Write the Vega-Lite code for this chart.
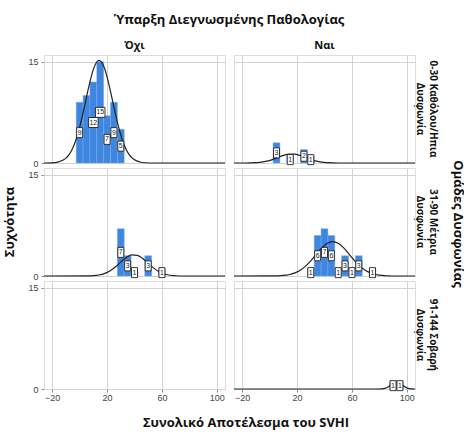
{
  "$schema": "https://vega.github.io/schema/vega-lite/v6.json",
  "background": "white",
  "padding": {"left": 3, "top": 14, "right": 0, "bottom": 2},
  "title": {"text": "Συχνότητα", "orient": "left", "anchor": "middle", "offset": 11},
  "vconcat": [{
  "title": {"text": "Συνολικό Αποτέλεσμα του SVHI", "orient": "bottom", "anchor": "middle", "offset": 15},
  "data": {"values": [
    {"t":"b","p":"Όχι","g":"0-30 Καθόλου/Ηπια Δυσφωνία","x0":-2.5,"x1":2.5,"xc":0,"n":9},
    {"t":"b","p":"Όχι","g":"0-30 Καθόλου/Ηπια Δυσφωνία","x0":2.5,"x1":7.5,"xc":5,"n":10},
    {"t":"b","p":"Όχι","g":"0-30 Καθόλου/Ηπια Δυσφωνία","x0":7.5,"x1":12.5,"xc":10,"n":12},
    {"t":"b","p":"Όχι","g":"0-30 Καθόλου/Ηπια Δυσφωνία","x0":12.5,"x1":17.5,"xc":15,"n":15},
    {"t":"b","p":"Όχι","g":"0-30 Καθόλου/Ηπια Δυσφωνία","x0":17.5,"x1":22.5,"xc":20,"n":7},
    {"t":"b","p":"Όχι","g":"0-30 Καθόλου/Ηπια Δυσφωνία","x0":22.5,"x1":27.5,"xc":25,"n":9},
    {"t":"b","p":"Όχι","g":"0-30 Καθόλου/Ηπια Δυσφωνία","x0":27.5,"x1":32.5,"xc":30,"n":5},
    {"t":"b","p":"Ναι","g":"0-30 Καθόλου/Ηπια Δυσφωνία","x0":2.5,"x1":7.5,"xc":5,"n":3},
    {"t":"b","p":"Ναι","g":"0-30 Καθόλου/Ηπια Δυσφωνία","x0":12.5,"x1":17.5,"xc":15,"n":1},
    {"t":"b","p":"Ναι","g":"0-30 Καθόλου/Ηπια Δυσφωνία","x0":22.5,"x1":27.5,"xc":25,"n":2},
    {"t":"b","p":"Ναι","g":"0-30 Καθόλου/Ηπια Δυσφωνία","x0":27.5,"x1":32.5,"xc":30,"n":1},
    {"t":"b","p":"Όχι","g":"31-90 Μέτρια Δυσφωνία","x0":27.5,"x1":32.5,"xc":30,"n":7},
    {"t":"b","p":"Όχι","g":"31-90 Μέτρια Δυσφωνία","x0":32.5,"x1":37.5,"xc":35,"n":3},
    {"t":"b","p":"Όχι","g":"31-90 Μέτρια Δυσφωνία","x0":37.5,"x1":42.5,"xc":40,"n":1},
    {"t":"b","p":"Όχι","g":"31-90 Μέτρια Δυσφωνία","x0":47.5,"x1":52.5,"xc":50,"n":3},
    {"t":"b","p":"Όχι","g":"31-90 Μέτρια Δυσφωνία","x0":57.5,"x1":62.5,"xc":60,"n":1},
    {"t":"b","p":"Ναι","g":"31-90 Μέτρια Δυσφωνία","x0":27.5,"x1":32.5,"xc":30,"n":1},
    {"t":"b","p":"Ναι","g":"31-90 Μέτρια Δυσφωνία","x0":32.5,"x1":37.5,"xc":35,"n":6},
    {"t":"b","p":"Ναι","g":"31-90 Μέτρια Δυσφωνία","x0":37.5,"x1":42.5,"xc":40,"n":7},
    {"t":"b","p":"Ναι","g":"31-90 Μέτρια Δυσφωνία","x0":42.5,"x1":47.5,"xc":45,"n":6},
    {"t":"b","p":"Ναι","g":"31-90 Μέτρια Δυσφωνία","x0":47.5,"x1":52.5,"xc":50,"n":1},
    {"t":"b","p":"Ναι","g":"31-90 Μέτρια Δυσφωνία","x0":52.5,"x1":57.5,"xc":55,"n":3},
    {"t":"b","p":"Ναι","g":"31-90 Μέτρια Δυσφωνία","x0":57.5,"x1":62.5,"xc":60,"n":1},
    {"t":"b","p":"Ναι","g":"31-90 Μέτρια Δυσφωνία","x0":62.5,"x1":67.5,"xc":65,"n":3},
    {"t":"b","p":"Ναι","g":"31-90 Μέτρια Δυσφωνία","x0":72.5,"x1":77.5,"xc":75,"n":1},
    {"t":"b","p":"Ναι","g":"91-144 Σοβαρή Δυσφωνία","x0":87.5,"x1":92.5,"xc":90,"n":1},
    {"t":"b","p":"Ναι","g":"91-144 Σοβαρή Δυσφωνία","x0":92.5,"x1":97.5,"xc":95,"n":1},
    {"t":"e","p":"Όχι","g":"91-144 Σοβαρή Δυσφωνία"},

    {"t":"c","p":"Όχι","g":"0-30 Καθόλου/Ηπια Δυσφωνία","x":-26,"y":0},
    {"t":"c","p":"Όχι","g":"0-30 Καθόλου/Ηπια Δυσφωνία","x":-20,"y":0.03},
    {"t":"c","p":"Όχι","g":"0-30 Καθόλου/Ηπια Δυσφωνία","x":-16,"y":0.13},
    {"t":"c","p":"Όχι","g":"0-30 Καθόλου/Ηπια Δυσφωνία","x":-12,"y":0.43},
    {"t":"c","p":"Όχι","g":"0-30 Καθόλου/Ηπια Δυσφωνία","x":-10,"y":0.72},
    {"t":"c","p":"Όχι","g":"0-30 Καθόλου/Ηπια Δυσφωνία","x":-8,"y":1.17},
    {"t":"c","p":"Όχι","g":"0-30 Καθόλου/Ηπια Δυσφωνία","x":-6,"y":1.82},
    {"t":"c","p":"Όχι","g":"0-30 Καθόλου/Ηπια Δυσφωνία","x":-4,"y":2.71},
    {"t":"c","p":"Όχι","g":"0-30 Καθόλου/Ηπια Δυσφωνία","x":-2,"y":3.88},
    {"t":"c","p":"Όχι","g":"0-30 Καθόλου/Ηπια Δυσφωνία","x":0,"y":5.32},
    {"t":"c","p":"Όχι","g":"0-30 Καθόλου/Ηπια Δυσφωνία","x":2,"y":7.0},
    {"t":"c","p":"Όχι","g":"0-30 Καθόλου/Ηπια Δυσφωνία","x":4,"y":8.84},
    {"t":"c","p":"Όχι","g":"0-30 Καθόλου/Ηπια Δυσφωνία","x":6,"y":10.71},
    {"t":"c","p":"Όχι","g":"0-30 Καθόλου/Ηπια Δυσφωνία","x":8,"y":12.44},
    {"t":"c","p":"Όχι","g":"0-30 Καθόλου/Ηπια Δυσφωνία","x":10,"y":13.87},
    {"t":"c","p":"Όχι","g":"0-30 Καθόλου/Ηπια Δυσφωνία","x":12,"y":14.82},
    {"t":"c","p":"Όχι","g":"0-30 Καθόλου/Ηπια Δυσφωνία","x":14,"y":15.2},
    {"t":"c","p":"Όχι","g":"0-30 Καθόλου/Ηπια Δυσφωνία","x":16,"y":14.95},
    {"t":"c","p":"Όχι","g":"0-30 Καθόλου/Ηπια Δυσφωνία","x":18,"y":14.1},
    {"t":"c","p":"Όχι","g":"0-30 Καθόλου/Ηπια Δυσφωνία","x":20,"y":12.76},
    {"t":"c","p":"Όχι","g":"0-30 Καθόλου/Ηπια Δυσφωνία","x":22,"y":11.07},
    {"t":"c","p":"Όχι","g":"0-30 Καθόλου/Ηπια Δυσφωνία","x":24,"y":9.22},
    {"t":"c","p":"Όχι","g":"0-30 Καθόλου/Ηπια Δυσφωνία","x":26,"y":7.36},
    {"t":"c","p":"Όχι","g":"0-30 Καθόλου/Ηπια Δυσφωνία","x":28,"y":5.64},
    {"t":"c","p":"Όχι","g":"0-30 Καθόλου/Ηπια Δυσφωνία","x":30,"y":4.15},
    {"t":"c","p":"Όχι","g":"0-30 Καθόλου/Ηπια Δυσφωνία","x":32,"y":2.92},
    {"t":"c","p":"Όχι","g":"0-30 Καθόλου/Ηπια Δυσφωνία","x":34,"y":1.97},
    {"t":"c","p":"Όχι","g":"0-30 Καθόλου/Ηπια Δυσφωνία","x":36,"y":1.28},
    {"t":"c","p":"Όχι","g":"0-30 Καθόλου/Ηπια Δυσφωνία","x":38,"y":0.8},
    {"t":"c","p":"Όχι","g":"0-30 Καθόλου/Ηπια Δυσφωνία","x":40,"y":0.47},
    {"t":"c","p":"Όχι","g":"0-30 Καθόλου/Ηπια Δυσφωνία","x":44,"y":0.15},
    {"t":"c","p":"Όχι","g":"0-30 Καθόλου/Ηπια Δυσφωνία","x":48,"y":0.04},
    {"t":"c","p":"Όχι","g":"0-30 Καθόλου/Ηπια Δυσφωνία","x":54,"y":0},
    {"t":"c","p":"Όχι","g":"0-30 Καθόλου/Ηπια Δυσφωνία","x":106,"y":0},

    {"t":"c","p":"Ναι","g":"0-30 Καθόλου/Ηπια Δυσφωνία","x":-26,"y":0},
    {"t":"c","p":"Ναι","g":"0-30 Καθόλου/Ηπια Δυσφωνία","x":-18,"y":0},
    {"t":"c","p":"Ναι","g":"0-30 Καθόλου/Ηπια Δυσφωνία","x":-14,"y":0.015},
    {"t":"c","p":"Ναι","g":"0-30 Καθόλου/Ηπια Δυσφωνία","x":-10,"y":0.05},
    {"t":"c","p":"Ναι","g":"0-30 Καθόλου/Ηπια Δυσφωνία","x":-6,"y":0.12},
    {"t":"c","p":"Ναι","g":"0-30 Καθόλου/Ηπια Δυσφωνία","x":-2,"y":0.27},
    {"t":"c","p":"Ναι","g":"0-30 Καθόλου/Ηπια Δυσφωνία","x":2,"y":0.51},
    {"t":"c","p":"Ναι","g":"0-30 Καθόλου/Ηπια Δυσφωνία","x":6,"y":0.82},
    {"t":"c","p":"Ναι","g":"0-30 Καθόλου/Ηπια Δυσφωνία","x":10,"y":1.13},
    {"t":"c","p":"Ναι","g":"0-30 Καθόλου/Ηπια Δυσφωνία","x":14,"y":1.32},
    {"t":"c","p":"Ναι","g":"0-30 Καθόλου/Ηπια Δυσφωνία","x":18,"y":1.32},
    {"t":"c","p":"Ναι","g":"0-30 Καθόλου/Ηπια Δυσφωνία","x":22,"y":1.13},
    {"t":"c","p":"Ναι","g":"0-30 Καθόλου/Ηπια Δυσφωνία","x":26,"y":0.82},
    {"t":"c","p":"Ναι","g":"0-30 Καθόλου/Ηπια Δυσφωνία","x":30,"y":0.51},
    {"t":"c","p":"Ναι","g":"0-30 Καθόλου/Ηπια Δυσφωνία","x":34,"y":0.27},
    {"t":"c","p":"Ναι","g":"0-30 Καθόλου/Ηπια Δυσφωνία","x":38,"y":0.12},
    {"t":"c","p":"Ναι","g":"0-30 Καθόλου/Ηπια Δυσφωνία","x":42,"y":0.05},
    {"t":"c","p":"Ναι","g":"0-30 Καθόλου/Ηπια Δυσφωνία","x":46,"y":0.015},
    {"t":"c","p":"Ναι","g":"0-30 Καθόλου/Ηπια Δυσφωνία","x":50,"y":0},
    {"t":"c","p":"Ναι","g":"0-30 Καθόλου/Ηπια Δυσφωνία","x":106,"y":0},

    {"t":"c","p":"Όχι","g":"31-90 Μέτρια Δυσφωνία","x":-26,"y":0},
    {"t":"c","p":"Όχι","g":"31-90 Μέτρια Δυσφωνία","x":5,"y":0.01},
    {"t":"c","p":"Όχι","g":"31-90 Μέτρια Δυσφωνία","x":10,"y":0.05},
    {"t":"c","p":"Όχι","g":"31-90 Μέτρια Δυσφωνία","x":14,"y":0.15},
    {"t":"c","p":"Όχι","g":"31-90 Μέτρια Δυσφωνία","x":18,"y":0.36},
    {"t":"c","p":"Όχι","g":"31-90 Μέτρια Δυσφωνία","x":22,"y":0.74},
    {"t":"c","p":"Όχι","g":"31-90 Μέτρια Δυσφωνία","x":26,"y":1.33},
    {"t":"c","p":"Όχι","g":"31-90 Μέτρια Δυσφωνία","x":30,"y":2.06},
    {"t":"c","p":"Όχι","g":"31-90 Μέτρια Δυσφωνία","x":34,"y":2.73},
    {"t":"c","p":"Όχι","g":"31-90 Μέτρια Δυσφωνία","x":38,"y":3.12},
    {"t":"c","p":"Όχι","g":"31-90 Μέτρια Δυσφωνία","x":42,"y":3.06},
    {"t":"c","p":"Όχι","g":"31-90 Μέτρια Δυσφωνία","x":46,"y":2.58},
    {"t":"c","p":"Όχι","g":"31-90 Μέτρια Δυσφωνία","x":50,"y":1.87},
    {"t":"c","p":"Όχι","g":"31-90 Μέτρια Δυσφωνία","x":54,"y":1.17},
    {"t":"c","p":"Όχι","g":"31-90 Μέτρια Δυσφωνία","x":58,"y":0.63},
    {"t":"c","p":"Όχι","g":"31-90 Μέτρια Δυσφωνία","x":62,"y":0.29},
    {"t":"c","p":"Όχι","g":"31-90 Μέτρια Δυσφωνία","x":66,"y":0.11},
    {"t":"c","p":"Όχι","g":"31-90 Μέτρια Δυσφωνία","x":70,"y":0.04},
    {"t":"c","p":"Όχι","g":"31-90 Μέτρια Δυσφωνία","x":76,"y":0},
    {"t":"c","p":"Όχι","g":"31-90 Μέτρια Δυσφωνία","x":106,"y":0},

    {"t":"c","p":"Ναι","g":"31-90 Μέτρια Δυσφωνία","x":-26,"y":0},
    {"t":"c","p":"Ναι","g":"31-90 Μέτρια Δυσφωνία","x":6,"y":0.03},
    {"t":"c","p":"Ναι","g":"31-90 Μέτρια Δυσφωνία","x":10,"y":0.08},
    {"t":"c","p":"Ναι","g":"31-90 Μέτρια Δυσφωνία","x":14,"y":0.19},
    {"t":"c","p":"Ναι","g":"31-90 Μέτρια Δυσφωνία","x":18,"y":0.42},
    {"t":"c","p":"Ναι","g":"31-90 Μέτρια Δυσφωνία","x":22,"y":0.81},
    {"t":"c","p":"Ναι","g":"31-90 Μέτρια Δυσφωνία","x":26,"y":1.42},
    {"t":"c","p":"Ναι","g":"31-90 Μέτρια Δυσφωνία","x":30,"y":2.25},
    {"t":"c","p":"Ναι","g":"31-90 Μέτρια Δυσφωνία","x":34,"y":3.22},
    {"t":"c","p":"Ναι","g":"31-90 Μέτρια Δυσφωνία","x":38,"y":4.16},
    {"t":"c","p":"Ναι","g":"31-90 Μέτρια Δυσφωνία","x":42,"y":4.85},
    {"t":"c","p":"Ναι","g":"31-90 Μέτρια Δυσφωνία","x":46,"y":5.1},
    {"t":"c","p":"Ναι","g":"31-90 Μέτρια Δυσφωνία","x":50,"y":4.85},
    {"t":"c","p":"Ναι","g":"31-90 Μέτρια Δυσφωνία","x":54,"y":4.16},
    {"t":"c","p":"Ναι","g":"31-90 Μέτρια Δυσφωνία","x":58,"y":3.22},
    {"t":"c","p":"Ναι","g":"31-90 Μέτρια Δυσφωνία","x":62,"y":2.25},
    {"t":"c","p":"Ναι","g":"31-90 Μέτρια Δυσφωνία","x":66,"y":1.42},
    {"t":"c","p":"Ναι","g":"31-90 Μέτρια Δυσφωνία","x":70,"y":0.81},
    {"t":"c","p":"Ναι","g":"31-90 Μέτρια Δυσφωνία","x":74,"y":0.42},
    {"t":"c","p":"Ναι","g":"31-90 Μέτρια Δυσφωνία","x":78,"y":0.19},
    {"t":"c","p":"Ναι","g":"31-90 Μέτρια Δυσφωνία","x":82,"y":0.08},
    {"t":"c","p":"Ναι","g":"31-90 Μέτρια Δυσφωνία","x":86,"y":0.03},
    {"t":"c","p":"Ναι","g":"31-90 Μέτρια Δυσφωνία","x":92,"y":0},
    {"t":"c","p":"Ναι","g":"31-90 Μέτρια Δυσφωνία","x":106,"y":0},

    {"t":"c","p":"Ναι","g":"91-144 Σοβαρή Δυσφωνία","x":-26,"y":0},
    {"t":"c","p":"Ναι","g":"91-144 Σοβαρή Δυσφωνία","x":78,"y":0},
    {"t":"c","p":"Ναι","g":"91-144 Σοβαρή Δυσφωνία","x":82,"y":0.02},
    {"t":"c","p":"Ναι","g":"91-144 Σοβαρή Δυσφωνία","x":84,"y":0.09},
    {"t":"c","p":"Ναι","g":"91-144 Σοβαρή Δυσφωνία","x":86,"y":0.25},
    {"t":"c","p":"Ναι","g":"91-144 Σοβαρή Δυσφωνία","x":88,"y":0.55},
    {"t":"c","p":"Ναι","g":"91-144 Σοβαρή Δυσφωνία","x":90,"y":0.89},
    {"t":"c","p":"Ναι","g":"91-144 Σοβαρή Δυσφωνία","x":92,"y":1.09},
    {"t":"c","p":"Ναι","g":"91-144 Σοβαρή Δυσφωνία","x":94,"y":1.02},
    {"t":"c","p":"Ναι","g":"91-144 Σοβαρή Δυσφωνία","x":96,"y":0.72},
    {"t":"c","p":"Ναι","g":"91-144 Σοβαρή Δυσφωνία","x":98,"y":0.39},
    {"t":"c","p":"Ναι","g":"91-144 Σοβαρή Δυσφωνία","x":100,"y":0.16},
    {"t":"c","p":"Ναι","g":"91-144 Σοβαρή Δυσφωνία","x":102,"y":0.05},
    {"t":"c","p":"Ναι","g":"91-144 Σοβαρή Δυσφωνία","x":104,"y":0.01},
    {"t":"c","p":"Ναι","g":"91-144 Σοβαρή Δυσφωνία","x":106,"y":0}
  ]},
  "facet": {
    "column": {
      "field": "p", "type": "nominal", "sort": ["Όχι", "Ναι"],
      "title": "Ύπαρξη Διεγνωσμένης Παθολογίας",
      "header": {"titleFontSize": 13, "titlePadding": 3, "labelFontSize": 11, "labelPadding": 4}
    },
    "row": {
      "field": "g", "type": "nominal",
      "sort": ["0-30 Καθόλου/Ηπια Δυσφωνία", "31-90 Μέτρια Δυσφωνία", "91-144 Σοβαρή Δυσφωνία"],
      "title": "Ομάδες Δυσφωνίας",
      "header": {
        "labelOrient": "right", "titleOrient": "right",
        "labelAngle": 90, "titleAngle": 90,
        "labelFontSize": 10, "labelLineHeight": 13, "labelPadding": 0,
        "titleFontSize": 13, "titlePadding": 3,
        "labelExpr": "[slice(datum.value, 0, lastindexof(datum.value, ' ')), slice(datum.value, lastindexof(datum.value, ' ') + 1)]"
      }
    }
  },
  "spacing": {"row": 5, "column": 9},
  "bounds": "flush",
  "spec": {
    "width": 181,
    "height": 108,
    "layer": [
      {
        "transform": [{"filter": "datum.t == 'b'"}],
        "mark": {"type": "rect", "fill": "#3f86e0", "stroke": "#7aa9ea", "strokeWidth": 0.5},
        "encoding": {
          "x": {"field": "x0", "type": "quantitative",
                "scale": {"domain": [-26, 106], "nice": false, "zero": false},
                "axis": {"values": [-20, 0, 20, 40, 60, 80, 100], "title": null, "labelPadding": 1}},
          "x2": {"field": "x1"},
          "y": {"field": "n", "type": "quantitative",
                "scale": {"domain": [0, 16], "nice": false},
                "axis": {"values": [0, 5, 10, 15], "title": null}},
          "y2": {"datum": 0}
        }
      },
      {
        "transform": [{"filter": "datum.t == 'c'"}],
        "mark": {"type": "line", "color": "#222222", "strokeWidth": 1.2, "interpolate": "monotone"},
        "encoding": {
          "x": {"field": "x", "type": "quantitative"},
          "y": {"field": "y", "type": "quantitative"}
        }
      },
      {
        "transform": [{"filter": "datum.t == 'b' && datum.n != 10"}],
        "mark": {"type": "point", "filled": true, "fill": "white", "stroke": "#222222", "strokeWidth": 0.9, "opacity": 1, "size": 100},
        "encoding": {
          "x": {"field": "xc", "type": "quantitative"},
          "y": {"datum": 0},
          "yOffset": {"field": "n", "type": "quantitative", "scale": {"domain": [0, 16], "range": [0, -54]}},
          "shape": {"field": "n", "type": "nominal", "legend": null,
                    "scale": {"domain": [1, 2, 3, 5, 6, 7, 9, 12, 15],
                              "range": ["M-0.6,-1H0.6V1H-0.6Z", "M-0.6,-1H0.6V1H-0.6Z", "M-0.6,-1H0.6V1H-0.6Z", "M-0.6,-1H0.6V1H-0.6Z", "M-0.6,-1H0.6V1H-0.6Z", "M-0.6,-1H0.6V1H-0.6Z", "M-0.6,-1H0.6V1H-0.6Z", "M-0.95,-1H0.95V1H-0.95Z", "M-0.95,-1H0.95V1H-0.95Z"]}}
        }
      },
      {
        "transform": [{"filter": "datum.t == 'b' && datum.n != 10"}],
        "mark": {"type": "text", "fontSize": 7, "font": "Liberation Sans", "color": "#222222", "align": "center", "baseline": "middle"},
        "encoding": {
          "x": {"field": "xc", "type": "quantitative"},
          "y": {"datum": 0},
          "yOffset": {"field": "n", "type": "quantitative", "scale": {"domain": [0, 16], "range": [0, -54]}},
          "text": {"field": "n", "type": "quantitative"}
        }
      }
    ]
  }
  }],
  "config": {
    "view": {"stroke": "#dddddd", "continuousWidth": 181, "continuousHeight": 108},
    "font": "Open Sans",
    "title": {"font": "Open Sans", "fontSize": 13, "fontWeight": "bold", "color": "#111111"},
    "axis": {
      "grid": true, "gridColor": "#d2d2d2", "gridWidth": 1,
      "domainColor": "#8a8a8a", "tickColor": "#8a8a8a", "tickSize": 3,
      "labelFont": "Liberation Sans", "labelFontSize": 9, "labelColor": "#444444", "labelPadding": 3
    },
    "header": {
      "labelFont": "Open Sans", "labelFontWeight": "bold", "labelColor": "#111111",
      "titleFont": "Open Sans", "titleFontWeight": "bold", "titleColor": "#111111"
    }
  }
}
